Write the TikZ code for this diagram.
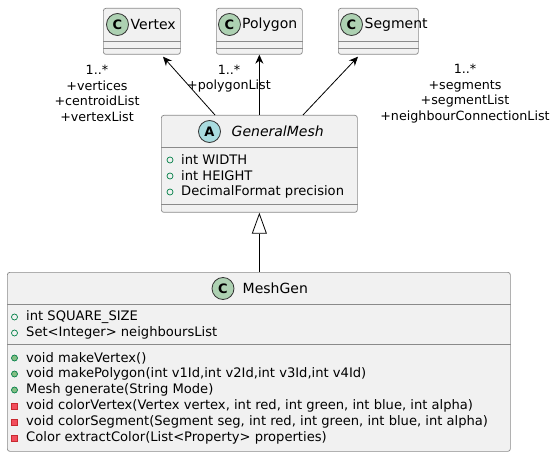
\documentclass[tikz,border=0pt]{standalone}
\usepackage{fontspec}
\setmainfont{DejaVu Sans}
\usetikzlibrary{arrows.meta,calc}
\definecolor{boxfill}{HTML}{F1F1F1}
\definecolor{boxline}{HTML}{8A8A8A}
\definecolor{cgreen}{HTML}{ADD1B2}
\definecolor{ablue}{HTML}{A9DCDF}
\definecolor{visgreen}{HTML}{038048}
\definecolor{pubfill}{HTML}{84BE84}
\definecolor{privline}{HTML}{C82930}
\definecolor{privfill}{HTML}{F24D5C}
\begin{document}
\begin{tikzpicture}[x=1pt,y=-1pt,
 cls/.style={draw=boxline, line width=0.7pt, fill=boxfill, rounded corners=2.5pt, inner sep=0, anchor=north west},
 sepline/.style={draw=boxline, line width=0.7pt},
 icon/.style={circle, draw=black!80, line width=0.8pt, minimum size=22pt, inner sep=0, font=\fontsize{13}{13}\selectfont\bfseries},
 title/.style={anchor=west, inner sep=0, font=\fontsize{14}{16}\selectfont},
 member/.style={anchor=west, inner sep=0, font=\fontsize{13.1}{15}\selectfont},
 lbl/.style={align=center, inner sep=0, font=\fontsize{12.7}{15.5}\selectfont},
 assoc/.style={-{Stealth[length=9pt,width=8pt,inset=3pt]}, line width=0.8pt},
 gen/.style={-{Triangle[open,length=21pt,width=15pt,fill=white]}, line width=0.8pt},
 attr/.style={circle, draw=visgreen, line width=0.7pt, minimum size=6pt, inner sep=0},
 pub/.style={attr, fill=pubfill},
 priv/.style={rectangle, draw=privline, fill=privfill, line width=0.7pt, minimum size=6pt, inner sep=0}]
\fill[white] (0,0) rectangle (554,457);
\path[use as bounding box] (0,0) rectangle (554,457);

% Vertex
\node[cls, minimum width=77pt, minimum height=46pt] (vertex) at (103,8) {};
\draw[sepline] ($(vertex.north west)+(0,33)$) -- ($(vertex.north east)+(0,33)$);
\draw[sepline] ($(vertex.north west)+(0,40)$) -- ($(vertex.north east)+(0,40)$);
\node[icon, fill=cgreen] (vertexicon) at (117.5,24.5) {C};
\node[title] (vertextitle) at (130.5,24.5) {Vertex};

% Polygon
\node[cls, minimum width=86pt, minimum height=46pt] (polygon) at (216,8) {};
\draw[sepline] ($(polygon.north west)+(0,33)$) -- ($(polygon.north east)+(0,33)$);
\draw[sepline] ($(polygon.north west)+(0,40)$) -- ($(polygon.north east)+(0,40)$);
\node[icon, fill=cgreen] (polygonicon) at (229.5,24.5) {C};
\node[title] (polygontitle) at (242,24.5) {Polygon};

% Segment
\node[cls, minimum width=80pt, minimum height=46pt] (segment) at (338,8) {};
\draw[sepline] ($(segment.north west)+(0,33)$) -- ($(segment.north east)+(0,33)$);
\draw[sepline] ($(segment.north west)+(0,40)$) -- ($(segment.north east)+(0,40)$);
\node[icon, fill=cgreen] (segmenticon) at (351.5,24.5) {C};
\node[title] (segmenttitle) at (364.5,24.5) {Segment};

% GeneralMesh
\node[cls, minimum width=196pt, minimum height=97pt] (gm) at (161,115) {};
\draw[sepline] ($(gm.north west)+(0,32)$) -- ($(gm.north east)+(0,32)$);
\draw[sepline] ($(gm.north west)+(0,89)$) -- ($(gm.north east)+(0,89)$);
\node[icon, fill=ablue] (gmicon) at (209.5,131.5) {A};
\node[title, font=\fontsize{14}{16}\selectfont\itshape] (gmtitle) at (231.5,131.5) {GeneralMesh};
\node[attr] (gma1) at (170,160) {};
\node[member] (gmt1) at (181,160) {int WIDTH};
\node[attr] (gma2) at (170,176) {};
\node[member] (gmt2) at (181,176) {int HEIGHT};
\node[attr] (gma3) at (170,192) {};
\node[member] (gmt3) at (181,192) {DecimalFormat precision};

% MeshGen
\node[cls, minimum width=503pt, minimum height=179pt] (meshgen) at (7,272) {};
\draw[sepline] ($(meshgen.north west)+(0,32)$) -- ($(meshgen.north east)+(0,32)$);
\draw[sepline] ($(meshgen.north west)+(0,72)$) -- ($(meshgen.north east)+(0,72)$);
\node[icon, fill=cgreen] (mgicon) at (223,288.5) {C};
\node[title] (mgtitle) at (242.5,288.5) {MeshGen};
\node[attr] (mga1) at (14.5,317) {};
\node[member] (mgt1) at (26,317) {int SQUARE\_SIZE};
\node[attr] (mga2) at (14.5,333) {};
\node[member] (mgt2) at (26,333) {Set<Integer> neighboursList};
\node[pub] (mgm1) at (14.5,358) {};
\node[member] (mgn1) at (26,358) {void makeVertex()};
\node[pub] (mgm2) at (14.5,374) {};
\node[member] (mgn2) at (26,374) {void makePolygon(int v1Id,int v2Id,int v3Id,int v4Id)};
\node[pub] (mgm3) at (14.5,390) {};
\node[member] (mgn3) at (26,390) {Mesh generate(String Mode)};
\node[priv] (mgm4) at (14.5,406) {};
\node[member] (mgn4) at (26,406) {void colorVertex(Vertex vertex, int red, int green, int blue, int alpha)};
\node[priv] (mgm5) at (14.5,422) {};
\node[member] (mgn5) at (26,422) {void colorSegment(Segment seg, int red, int green, int blue, int alpha)};
\node[priv] (mgm6) at (14.5,438) {};
\node[member] (mgn6) at (26,438) {Color extractColor(List<Property> properties)};

% connectors
\draw[assoc] ($(gm.north west)+(54,0)$) -- ($(vertex.south west)+(60,2)$);
\draw[assoc] (gm.north) -- (polygon.south);
\draw[assoc] ($(gm.north west)+(142,0)$) -- ($(segment.south west)+(20,2)$);
\draw[gen] (meshgen.north -| gm.south) -- (gm.south);

% labels
\node[lbl] (vlbl) at (97,93.5) {1..*\\+vertices\\+centroidList\\+vertexList};
\node[lbl] (plbl) at (229,78.5) {1..*\\+polygonList};
\node[lbl] (slbl) at (465,93.5) {1..*\\+segments\\+segmentList\\+neighbourConnectionList};
\end{tikzpicture}
\end{document}
